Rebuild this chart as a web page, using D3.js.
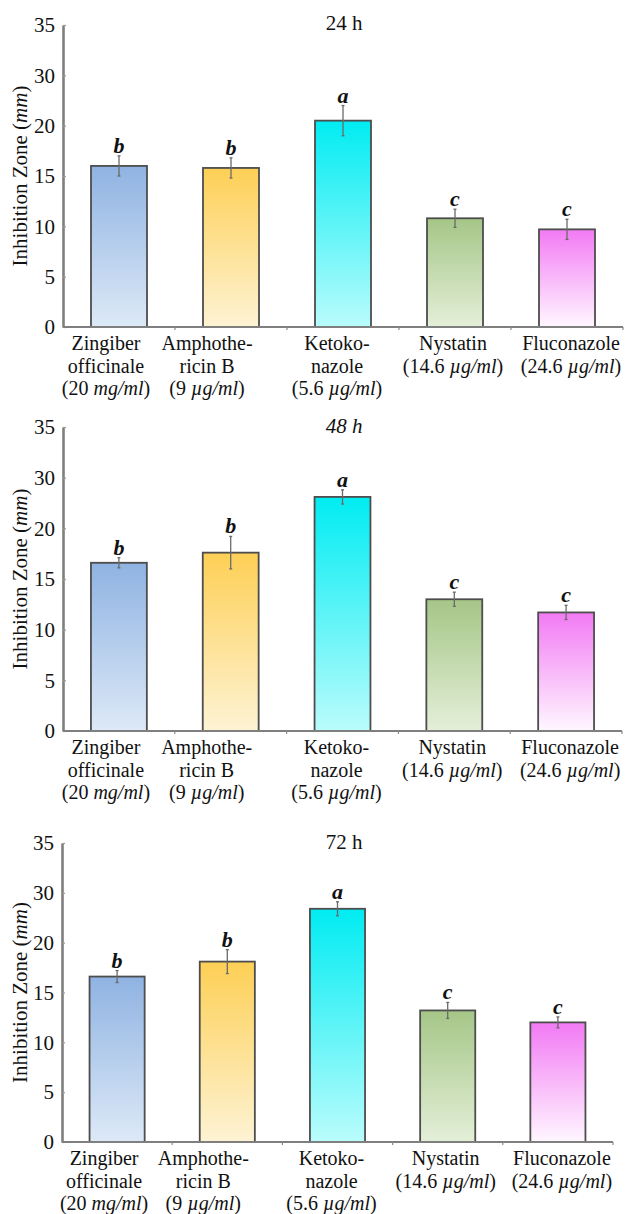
<!DOCTYPE html>
<html>
<head>
<meta charset="utf-8">
<script src="https://cdn.jsdelivr.net/npm/d3@7"></script>
<style>
  body { margin: 0; background: #fff; }
  svg text { font-family: "Liberation Serif", "Times New Roman", serif; fill: #111; }
</style>
</head>
<body>
<div id="chart"></div>
<script>

// --------------------------------------------------------
// Data

// category label lines, |...| marks italic text
var categories      = [ "Zingiber", "Amphotericin B", "Ketokonazole", "Nystatin", "Fluconazole" ];
var category_lines  = [
	[ "Zingiber", "officinale", "(20 |mg/ml|)" ],
	[ "Amphothe-", "ricin B", "(9 |µg/ml|)" ],
	[ "Ketoko-", "nazole", "(5.6 |µg/ml|)" ],
	[ "Nystatin", "(14.6 |µg/ml|)" ],
	[ "Fluconazole", "(24.6 |µg/ml|)" ]
];

var values_24h      = [ 16.0, 15.8, 20.5, 10.8, 9.7 ];
var errors_24h      = [ 1.0, 1.0, 1.5, 0.9, 1.0 ];

var values_48h      = [ 16.6, 17.6, 23.1, 13.0, 11.7 ];
var errors_48h      = [ 0.5, 1.6, 0.7, 0.7, 0.7 ];

var values_72h      = [ 16.6, 18.1, 23.4, 13.2, 12.0 ];
var errors_72h      = [ 0.6, 1.2, 0.7, 0.8, 0.55 ];

var letters         = [ "b", "b", "a", "c", "c" ];

// the figure's axis skips 25: seven evenly spaced ticks
var y_tick_values   = [ 0, 5, 10, 15, 20, 25, 30 ];
var y_tick_labels   = [ "0", "5", "10", "15", "20", "30", "35" ];

var titles          = [ "24 h", "48 h", "72 h" ];

// --------------------------------------------------------
// Layout / style

var chart_width     = 631;
var chart_height    = 1214;

var panels = [
	{ title: titles[0], italic: false, values: values_24h, errors: errors_24h, top: 25,  bottom: 327,  left: 63, right: 623, title_y: 30 },
	{ title: titles[1], italic: true,  values: values_48h, errors: errors_48h, top: 427, bottom: 731,  left: 63, right: 622, title_y: 433 },
	{ title: titles[2], italic: false, values: values_72h, errors: errors_72h, top: 843, bottom: 1142, left: 62, right: 613, title_y: 849 }
];

// label centre nudges relative to the bar centre (the original labels are off-centre)
var label_shift     = [ -13, -24, -6, -2, 4 ];
var label_size      = 20;
var label_step      = 22.5;

var grad_colors = [
	[ "#8fb3e2", "#dde9f7" ],
	[ "#fdcf55", "#fdf3d4" ],
	[ "#00ecf2", "#bafcfc" ],
	[ "#a5c687", "#e4efd8" ],
	[ "#f27af4", "#fff7ff" ]
];

// --------------------------------------------------------
// SVG

var svg = d3.select( "#chart" )
	.append( "svg" )
	.attr( "width", chart_width )
	.attr( "height", chart_height )
	.attr( "font-family", "'Liberation Serif', serif" );

var defs = svg.append( "defs" );
grad_colors.forEach( function( c, i ) {
	var g = defs.append( "linearGradient" )
		.attr( "id", "grad" + i )
		.attr( "x1", 0 ).attr( "y1", 0 )
		.attr( "x2", 0 ).attr( "y2", 1 );
	g.append( "stop" ).attr( "offset", "0%" ).attr( "stop-color", c[0] );
	g.append( "stop" ).attr( "offset", "100%" ).attr( "stop-color", c[1] );
});

// writes "text |italic| text" as tspans
function rich_text( sel, str ) {
	str.split( "|" ).forEach( function( part, k ) {
		if ( part === "" ) return;
		sel.append( "tspan" )
			.style( "font-style", k % 2 ? "italic" : "normal" )
			.text( part );
	});
}

// --------------------------------------------------------
// Panels

panels.forEach( function( p ) {

	var g = svg.append( "g" );

	var x_scale = d3.scaleBand()
		.domain( d3.range( categories.length ) )
		.range( [ p.left, p.right ] )
		.paddingInner( 0.5 )
		.paddingOuter( 0.25 );

	var y_scale = d3.scaleLinear()
		.domain( [ 0, 30 ] )
		.range( [ p.bottom, p.top ] );

	// bars
	g.selectAll( "rect.bar" )
		.data( p.values )
		.enter()
		.append( "rect" )
		.attr( "class", "bar" )
		.attr( "x", function( d, i ) { return x_scale( i ); } )
		.attr( "y", function( d ) { return y_scale( d ); } )
		.attr( "width", x_scale.bandwidth() )
		.attr( "height", function( d ) { return p.bottom - y_scale( d ); } )
		.attr( "fill", function( d, i ) { return "url(#grad" + i + ")"; } )
		.attr( "stroke", "#4d4d4d" )
		.attr( "stroke-width", 1.8 );

	// error bars
	var eb = g.selectAll( "g.err" )
		.data( p.values )
		.enter()
		.append( "g" )
		.attr( "class", "err" )
		.attr( "stroke", "#6a6a6a" )
		.attr( "stroke-width", 1.3 );

	eb.append( "line" )
		.attr( "x1", function( d, i ) { return x_scale( i ) + x_scale.bandwidth() / 2; } )
		.attr( "x2", function( d, i ) { return x_scale( i ) + x_scale.bandwidth() / 2; } )
		.attr( "y1", function( d, i ) { return y_scale( d + p.errors[i] ); } )
		.attr( "y2", function( d, i ) { return y_scale( d - p.errors[i] ); } );

	[ 1, -1 ].forEach( function( s ) {
		eb.append( "line" )
			.attr( "x1", function( d, i ) { return x_scale( i ) + x_scale.bandwidth() / 2 - 1.5; } )
			.attr( "x2", function( d, i ) { return x_scale( i ) + x_scale.bandwidth() / 2 + 1.5; } )
			.attr( "y1", function( d, i ) { return y_scale( d + s * p.errors[i] ); } )
			.attr( "y2", function( d, i ) { return y_scale( d + s * p.errors[i] ); } );
	});

	// significance letters
	g.selectAll( "text.letter" )
		.data( p.values )
		.enter()
		.append( "text" )
		.attr( "class", "letter" )
		.attr( "x", function( d, i ) { return x_scale( i ) + x_scale.bandwidth() / 2; } )
		.attr( "y", function( d, i ) { return y_scale( d + p.errors[i] ) - 3; } )
		.attr( "text-anchor", "middle" )
		.style( "font-size", "22px" )
		.style( "font-weight", "bold" )
		.style( "font-style", "italic" )
		.text( function( d, i ) { return letters[i]; } );

	// y axis
	var y_axis = d3.axisLeft( y_scale )
		.tickValues( y_tick_values )
		.tickFormat( function( d, i ) { return y_tick_labels[i]; } )
		.tickSizeInner( -3 )
		.tickSizeOuter( 0 )
		.tickPadding( 8 );

	var ya = g.append( "g" )
		.attr( "transform", "translate(" + p.left + ",0)" )
		.call( y_axis );
	ya.attr( "font-family", "'Liberation Serif', serif" );
	ya.select( ".domain" ).attr( "stroke", "#7f7f7f" ).attr( "stroke-width", 2.6 );
	ya.selectAll( ".tick line" ).attr( "stroke", "#9a9a9a" ).attr( "stroke-width", 1.2 );
	ya.selectAll( ".tick text" )
		.style( "font-size", "21px" )
		.attr( "fill", "#111" );

	// x axis: baseline with small ticks between the categories
	var xa = g.append( "g" );
	xa.append( "line" )
		.attr( "x1", p.left ).attr( "x2", p.right )
		.attr( "y1", p.bottom ).attr( "y2", p.bottom )
		.attr( "stroke", "#7f7f7f" )
		.attr( "stroke-width", 2.2 );
	xa.selectAll( "line.xt" )
		.data( d3.range( 1, categories.length + 1 ) )
		.enter()
		.append( "line" )
		.attr( "class", "xt" )
		.attr( "x1", function( k ) { return p.left + k * x_scale.step(); } )
		.attr( "x2", function( k ) { return p.left + k * x_scale.step(); } )
		.attr( "y1", p.bottom )
		.attr( "y2", p.bottom + 3 )
		.attr( "stroke", "#8a8a8a" )
		.attr( "stroke-width", 1.2 );

	// category labels
	category_lines.forEach( function( lines, i ) {
		var cx = x_scale( i ) + x_scale.bandwidth() / 2 + label_shift[i];
		lines.forEach( function( line, j ) {
			var t = g.append( "text" )
				.attr( "x", cx )
				.attr( "y", p.bottom + 23 + j * label_step )
				.attr( "text-anchor", "middle" )
				.style( "font-size", label_size + "px" );
			rich_text( t, line );
		});
	});

	// y axis title
	g.append( "text" )
		.attr( "transform", "translate(27," + ( ( p.top + p.bottom ) / 2 ) + ") rotate(-90)" )
		.attr( "text-anchor", "middle" )
		.style( "font-size", "21px" )
		.call( function( t ) { rich_text( t, "Inhibition Zone (|mm|)" ); } );

	// panel title
	g.append( "text" )
		.attr( "x", 344 )
		.attr( "y", p.title_y )
		.attr( "text-anchor", "middle" )
		.style( "font-size", "21px" )
		.style( "font-style", p.italic ? "italic" : "normal" )
		.text( p.title );
});

</script>
</body>
</html>
